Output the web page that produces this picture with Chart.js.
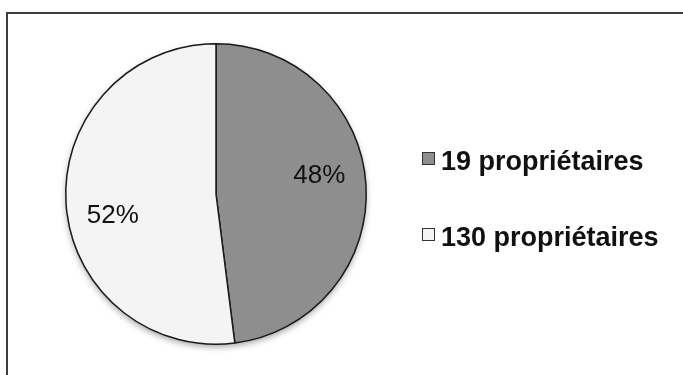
<!DOCTYPE html>
<html>
<head>
<meta charset="utf-8">
<script src="https://cdn.jsdelivr.net/npm/chart.js@4/dist/chart.umd.min.js"></script>
<style>
    html, body { margin: 0; padding: 0; background: #fff; }
    #wrap   { position: relative; width: 683px; height: 375px; overflow: hidden; }
    #frame  { position: absolute; left: 6px; top: 12px; width: 700px; height: 400px;
              border-top: 2px solid #3c3c3c; border-left: 2px solid #3c3c3c; }
    #pie    { position: absolute; left: 0; top: 0; }
    #legend { position: absolute; left: 422px; top: 0; font: bold 27px "Liberation Sans", Arial, sans-serif; color: #111; }
    .item   { position: absolute; left: 0; white-space: nowrap; }
    .box    { position: absolute; left: 0; width: 11px; height: 11px; border: 1px solid #333; }
    .txt    { position: absolute; left: 19px; }
</style>
</head>
<body>
<div id="wrap">
    <div id="frame"></div>
    <canvas id="pie" width="683" height="375"></canvas>
    <div id="legend"></div>
</div>
<script>
// pie.js — owners split

const labels   = ["19 propriétaires", "130 propriétaires"];
const shares   = [48, 52];
const colors   = ["#8e8e8e", "#f4f4f4"];
const legendY  = [152, 228];

// HTML legend
const legend = document.getElementById("legend");
labels.forEach((name, i) => {
    const item = document.createElement("div");
    item.className = "item";
    item.style.top = legendY[i] + "px";
    item.innerHTML = `<div class="box" style="top:0;background:${colors[i]}"></div>` +
                     `<div class="txt" style="top:-6px">${name}</div>`;
    legend.appendChild(item);
});

// soft shadow under the pie
const pieShadow = {
    id: "pieShadow",
    beforeDatasetsDraw(chart) {
        const arc = chart.getDatasetMeta(0).data[0];
        if (!arc) return;
        const ctx = chart.ctx;
        ctx.save();
        ctx.shadowColor   = "rgba(0,0,0,0.35)";
        ctx.shadowBlur    = 6;
        ctx.shadowOffsetY = 3;
        ctx.fillStyle     = "#fff";
        ctx.beginPath();
        ctx.arc(arc.x, arc.y, arc.outerRadius, 0, Math.PI * 2);
        ctx.fill();
        ctx.restore();
    }
};

// percent labels inside the slices
const sliceLabels = {
    id: "sliceLabels",
    afterDatasetsDraw(chart) {
        const ctx = chart.ctx;
        ctx.save();
        ctx.font         = '26px "Liberation Sans", Arial, sans-serif';
        ctx.fillStyle    = "#111";
        ctx.textAlign    = "center";
        ctx.textBaseline = "middle";
        chart.getDatasetMeta(0).data.forEach((arc, i) => {
            const mid = (arc.startAngle + arc.endAngle) / 2 - 0.13;
            const r   = arc.outerRadius * 0.70;
            ctx.fillText(shares[i] + "%", arc.x + Math.cos(mid) * r, arc.y + Math.sin(mid) * r + 2);
        });
        ctx.restore();
    }
};

new Chart(document.getElementById("pie"), {
    type: "pie",
    data: {
        labels: labels,
        datasets: [{
            data:            shares,
            backgroundColor: colors,
            borderColor:     "#1a1a1a",
            borderWidth:     1.5,
        }]
    },
    options: {
        responsive:  false,
        animation:   false,
        layout: { padding: { left: 65, right: 316, top: 43, bottom: 30 } },
        plugins: {
            legend:  { display: false },
            tooltip: { enabled: false },
        }
    },
    plugins: [pieShadow, sliceLabels]
});
</script>
</body>
</html>
